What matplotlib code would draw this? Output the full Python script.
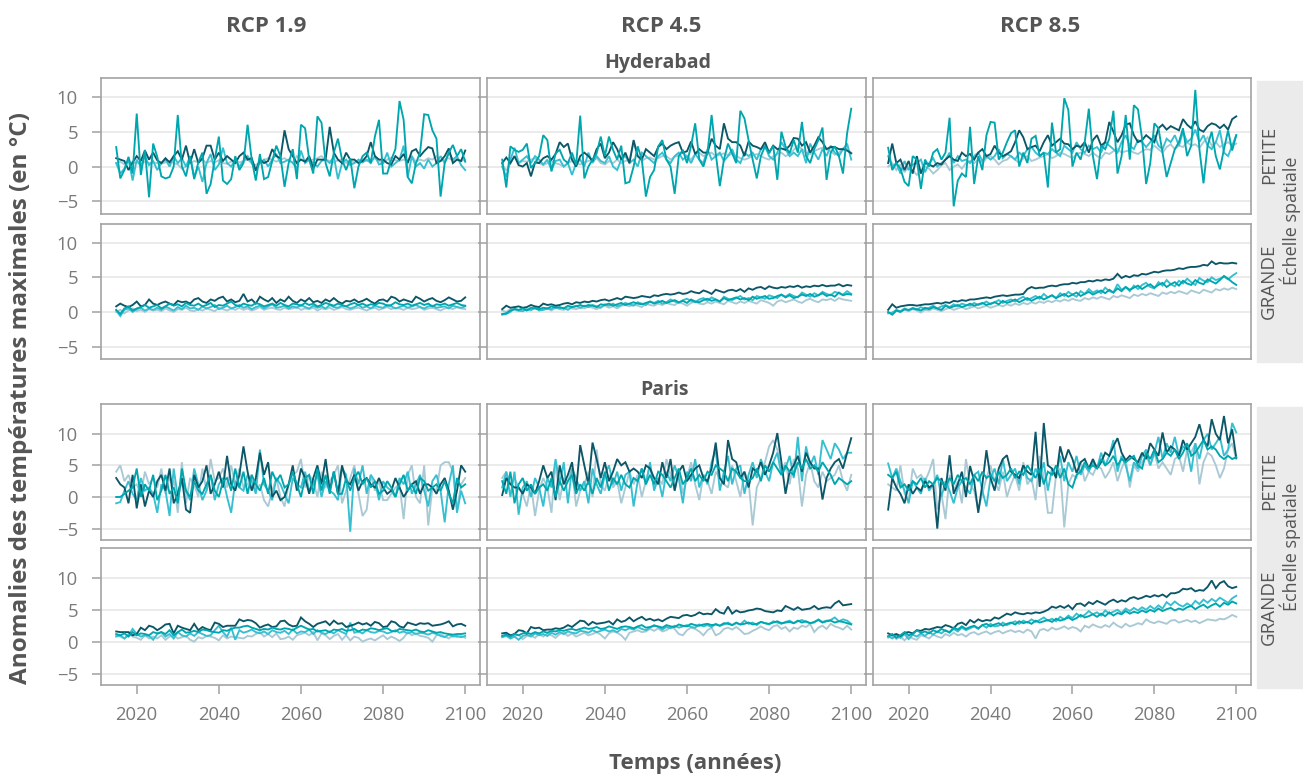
import matplotlib
matplotlib.use("Agg")
import matplotlib.pyplot as plt
from matplotlib.patches import Rectangle

plt.rcParams['font.family'] = ['Open Sans', 'DejaVu Sans']

# ---- data ----
years = list(range(2015, 2101))
rcp_labels = ["RCP 1.9", "RCP 4.5", "RCP 8.5"]
cities = ["Hyderabad", "Paris"]
scale_labels = ["PETITE", "GRANDE"]
x_ticks = [2020, 2040, 2060, 2080, 2100]
y_ticks = [-5, 0, 5, 10]

# Hyderabad - petite echelle
hyd_p19_dark = [
    1.2, 1.0, 0.8, -0.5, 0.6, 1.5, 0.8, 2.3, 1.0, 2.0,
    0.9, 0.5, 1.2, 0.6, 1.5, 2.2, 1.0, 3.0, 0.5, 2.5,
    0.5, 1.2, 3.0, 3.0, 1.0, 2.0, 0.8, 1.5, 1.0, 0.5,
    1.5, 2.0, 1.0, 1.2, -0.6, 1.0, 0.5, 0.8, 2.5, 1.5,
    1.2, 5.2, 2.5, 1.5, 0.5, 1.0, 0.7, 1.5, -0.3, 1.0,
    1.0, 1.0, 5.7, 2.0, 1.0, 0.5, 2.0, 1.0, 1.0, 0.5,
    0.8, 1.5, 3.5, 1.5, 1.0, 1.0, 0.5, 0.3, 1.5, 1.0,
    1.8, 0.5, 2.2, 2.5, 1.5, 2.2, 2.8, 2.6, 0.5, 0.8,
    1.5, 2.6, 0.5, 1.0, 0.8, 2.3,
]
hyd_p19_teal = [
    2.8, -1.7, -0.5, 1.4, -1.0, 7.6, -1.2, 2.4, -4.4, 3.3,
    1.4, -1.4, -1.7, -1.5, 0.0, 7.4, 0.0, -1.4, 1.5, -1.8,
    0.6, 2.0, -3.9, -2.5, 1.0, 4.3, -2.0, -2.5, -1.8, 1.5,
    -0.5, 0.5, 6.0, 1.0, -2.0, 1.8, -1.8, -1.5, 0.8, 3.0,
    1.5, -2.9, 0.5, 2.5, -1.8, 6.0, 5.5, 1.0, -1.0, 7.2,
    6.3, 0.5, -1.4, 2.0, 4.0, 1.0, -0.5, 1.2, -3.1, 0.0,
    1.5, 2.0, 0.5, 4.3, 6.7, -1.0, -1.0, 1.0, 2.5, 9.4,
    6.7, -1.5, -2.4, 0.5, 2.0, 7.5, 7.4, 5.2, 4.0, -4.3,
    0.5, 2.0, 3.1, 1.5, 2.5, 0.7,
]
hyd_p19_cyan = [
    0.5, -1.0, -0.3, 1.0, -2.0, 1.0, 0.0, 1.5, 0.2, 0.8,
    -0.5, 0.5, 1.0, 0.0, 1.5, 0.5, 1.2, 0.0, 1.5, -1.5,
    0.0, -2.2, 0.5, 1.8, -0.5, 0.3, 2.7, 0.5, 0.0, 1.0,
    0.0, 0.8, 1.5, 0.5, -0.5, 0.5, 1.0, 0.0, 1.0, 1.8,
    0.5, 0.7, 1.0, 0.5, -0.3, 2.3, 0.5, 1.0, 0.5, 0.0,
    0.8, 1.0, 0.5, 1.5, -1.8, 0.5, 1.0, 0.2, 0.5, 1.0,
    0.6, 1.0, 0.5, 1.5, 0.3, 0.5, 2.0, 0.0, 0.5, 1.0,
    3.0, -1.5, 1.5, 0.0, 0.5, -0.3, 1.0, 0.0, 0.5, 1.5,
    0.5, 2.0, 1.0, 1.5, 0.2, -0.5,
]
hyd_p19_light = [
    0.5, 0.7, 0.3, 0.8, 0.5, 0.6, 0.4, 0.7, 0.5, 0.6,
    0.5, 0.4, 0.6, 0.8, 0.5, 0.3, -0.3, 0.0, 0.5, 0.8,
    0.6, 1.0, 0.5, 0.8, 0.6, 0.9, 0.5, 0.4, 0.7, 0.9,
    0.6, 0.8, 1.0, 0.5, 0.2, 0.6, 0.9, 1.2, 1.0, 0.7,
    1.0, 1.2, 0.8, 0.6, 1.5, 1.0, 0.8, 0.9, 1.0, 1.2,
    1.5, 1.0, 0.8, 0.6, 0.9, 1.0, 0.5, 0.8, 0.6, 0.7,
    1.0, 0.8, 1.0, 1.2, 0.8, 0.5, 1.0, 1.3, 0.9, 0.8,
    1.0, 0.9, 1.5, 0.7, 1.0, 0.8, 1.2, 1.0, 1.5, 0.8,
    1.0, 1.2, 0.9, 1.1, 0.8, 1.0,
]

hyd_p45_dark = [
    0.5, 1.3, 0.5, 1.5, 0.2, 0.0, 0.5, -1.4, 0.6, 0.5,
    1.2, 1.5, 1.0, 1.8, 3.5, 2.8, 3.3, 1.0, 0.0, 1.5,
    2.0, 1.5, 0.8, 2.5, 3.3, 1.2, 2.0, 3.5, 2.5, 1.0,
    2.0, 0.5, 3.8, 1.5, 1.0, 2.5, 2.0, 1.5, 2.8, 3.3,
    2.5, 3.0, 3.3, 3.5, 2.0, 2.2, 3.6, 1.8, 2.5, 2.0,
    2.0, 4.0, 3.0, 2.5, 6.2, 4.0, 3.5, 3.5, 3.0, 1.5,
    3.6, 3.0, 2.8, 2.5, 3.5, 2.0, 3.0, 2.5, 2.6, 2.4,
    3.0, 4.1, 4.0, 3.0, 3.5, 2.0, 3.0, 4.2, 3.5, 2.5,
    2.8, 2.8, 2.5, 2.5, 2.3, 1.9,
]
hyd_p45_teal = [
    1.0, -3.0, 2.9, 2.4, 2.1, 2.4, 3.3, -0.2, 0.5, 1.5,
    4.5, 3.8, -0.7, 1.9, 2.4, 1.0, 0.5, 2.0, 0.2, 7.3,
    -1.7, 0.0, 1.0, 1.9, 4.3, 1.5, 4.3, 2.4, 1.0, 3.0,
    -2.4, -2.2, 0.0, 2.9, 1.0, -4.3, -1.5, -0.5, 2.9, 3.8,
    1.0, 0.0, -3.9, 1.5, 2.4, 0.5, 3.0, 6.2, 1.0, 0.0,
    2.0, 7.4, 1.9, -2.8, 1.0, 3.3, 1.9, 0.5, 8.0, 6.9,
    3.8, 1.0, -1.7, 1.5, 2.9, 1.9, 3.0, -1.9, 5.0, 2.9,
    1.9, 3.8, 2.0, 6.4, 1.5, 0.5, 2.5, 3.8, 5.6, -1.9,
    2.0, 2.9, 1.5, -1.0, 4.8, 8.3,
]
hyd_p45_cyan = [
    0.0, -1.5, 1.0, 2.7, 0.5, 1.0, 1.5, 0.5, 1.5, 1.0,
    0.3, 1.0, -0.5, 0.8, 1.0, 0.0, 0.5, -1.2, 0.5, 1.0,
    0.0, 2.0, 0.5, 1.5, 0.8, 0.5, 1.5, 0.0, -0.5, 1.0,
    1.5, 0.5, 1.0, 0.0, 2.0, 1.5, 1.0, 0.5, 1.5, 2.0,
    1.0, 0.5, 1.5, 2.0, 1.0, 1.5, 0.5, 1.8, 1.0, 0.5,
    2.5, 1.0, 1.5, 2.0, 0.8, 1.5, 2.5, 1.0, 0.5, 2.0,
    1.5, 2.0, 1.0, 2.5, 3.0, 1.5, 1.0, 2.0, 3.5, 2.5,
    1.5, 2.0, 1.5, 2.5, 0.5, 3.3, 2.0, 1.0, 2.5, 1.5,
    3.0, 2.0, 1.5, 2.5, 3.3, 1.0,
]
hyd_p45_light = [
    0.3, -0.6, 0.5, 1.5, 0.5, 0.8, 0.7, 1.0, 1.2, 0.5,
    0.2, 0.5, 0.8, 0.5, 0.3, 0.0, 0.5, 0.8, 0.5, 0.3,
    0.6, 0.8, 1.0, 1.2, 0.5, 0.3, 0.8, 0.5, 1.0, 0.5,
    0.8, 1.0, 3.4, 1.5, 0.8, 1.2, 1.3, 1.0, 1.2, 1.5,
    1.5, 1.0, 1.4, 1.6, 2.0, 1.5, 1.0, 1.8, 2.0, 1.5,
    1.8, 2.0, 1.5, 1.7, 1.9, 1.6, 1.8, 1.5, 1.2, 1.0,
    1.2, 1.6, 1.8, 1.5, 1.2, 1.0, 1.5, 1.8, 2.0, 1.5,
    1.8, 2.4, 3.0, 2.5, 2.0, 1.8, 2.2, 2.5, 2.7, 2.5,
    2.2, 1.7, 2.0, 2.6, 2.5, 2.0,
]

hyd_p85_dark = [
    0.5, 3.3, 0.5, 1.0, -0.5, 0.8, -1.0, 1.5, -1.0, 0.5,
    0.3, 0.0, 0.5, 0.3, 1.0, 1.5, 1.0, 0.8, 2.0, 1.5,
    1.8, 1.0, 2.0, 2.5, 1.5, 1.8, 3.0, 2.0, 1.5, 1.8,
    2.2, 3.5, 5.2, 4.2, 2.5, 2.8, 3.0, 2.2, 3.5, 4.5,
    3.0, 3.5, 4.0, 3.3, 3.2, 2.5, 3.0, 2.8, 3.5, 2.0,
    3.8, 4.5, 3.0, 3.5, 6.4, 5.0, 3.5, 4.5, 6.0, 6.2,
    4.5, 3.5, 3.8, 4.5, 4.0, 3.5, 5.5, 6.0, 5.3, 5.8,
    5.5, 5.2, 6.8, 6.0, 5.5, 6.5, 5.3, 5.0, 5.8, 6.2,
    6.0, 5.5, 6.0, 5.3, 6.8, 7.2,
]
hyd_p85_teal = [
    2.7, -0.5, 0.5, -0.3, -2.2, -2.8, 1.5, 1.0, -3.2, 1.0,
    0.0, 2.0, 2.5, 1.0, 2.0, 7.0, -5.7, -2.0, -1.0, -1.5,
    5.7, -2.5, 1.5, -0.5, 4.5, 6.4, 6.3, 1.0, 2.0, 3.5,
    4.8, 5.2, 0.0, 2.0, 0.5, 4.0, 4.4, 1.5, 2.0, -3.0,
    6.3, 2.0, 2.5, 9.8, 8.1, 0.0, 2.0, 1.0, 3.5, 8.3,
    1.5, -1.8, 3.0, 2.5, 4.0, 8.0, -1.0, 1.5, 7.4, 1.0,
    8.8, 8.2, 4.0, -2.5, 0.5, 6.2, 5.5, 2.0, -1.5, 0.5,
    2.5, 3.5, 5.5, 1.5, 3.0, 11.0, 2.5, -2.4, 3.0, 5.0,
    1.5, -0.4, 2.5, 5.2, 2.3, 4.5,
]
hyd_p85_cyan = [
    1.5, 0.0, 0.5, -1.0, 0.8, -0.5, 0.3, 0.5, 1.0, -0.8,
    0.5, 1.2, 0.0, 0.5, 1.0, 2.0, 0.5, 1.5, 0.8, 1.0,
    0.5, 1.5, 2.0, 0.8, 1.5, 1.0, 1.5, 2.5, 1.2, 1.8,
    1.5, 1.0, 2.0, 1.5, 2.5, 2.8, 2.0, 1.5, 2.0, 1.8,
    2.5, 2.0, 1.5, 3.0, 2.5, 2.0, 3.5, 2.5, 2.0, 3.0,
    2.5, 2.8, 2.0, 3.5, 3.0, 2.5, 2.0, 3.5, 4.5, 3.0,
    2.5, 3.8, 3.5, 2.8, 3.5, 4.5, 3.0, 2.5, 4.0, 3.5,
    4.5, 3.0, 5.0, 3.5, 4.0, 5.3, 3.5, 4.5, 3.0, 2.5,
    3.5, 5.2, 2.0, 1.5, 3.0, 4.5,
]
hyd_p85_light = [
    0.0, 0.5, -0.5, 0.3, -0.8, 0.0, -0.5, -1.2, -0.5, 0.0,
    -0.3, -1.0, -0.5, 0.2, 0.5, -0.5, 0.0, 0.3, -0.3, 0.5,
    0.8, 0.5, 1.0, 0.5, 1.2, 1.5, 1.0, 0.3, 0.8, 1.0,
    1.5, 1.0, 0.5, 1.2, 1.5, 0.8, 1.0, 1.3, 1.5, 1.8,
    1.2, 1.5, 2.0, 1.8, 1.5, 1.2, 1.8, 2.0, 1.8, 1.5,
    2.0, 1.5, 1.2, 2.0, 1.8, 2.2, 2.5, 2.0, 2.2, 2.3,
    2.0, 1.8, 2.2, 2.5, 2.4, 3.0, 2.5, 2.0, 2.8, 3.2,
    2.5, 3.0, 2.8, 3.5, 3.0, 3.2, 2.7, 3.5, 4.2, 3.0,
    3.5, 2.8, 3.2, 3.5, 3.0, 3.3,
]

# Hyderabad - grande echelle
hyd_g19_dark = [
    0.8, 1.2, 0.9, 0.7, 1.0, 1.5, 0.8, 1.0, 1.8, 1.2,
    1.0, 1.3, 1.5, 1.2, 1.0, 1.6, 1.4, 1.5, 1.2, 1.8,
    2.0, 1.5, 1.3, 1.8, 1.6, 2.0, 2.2, 1.5, 1.8, 1.4,
    1.6, 2.6, 1.5, 1.8, 1.2, 2.2, 1.8, 1.5, 2.0, 1.3,
    1.8, 1.5, 2.2, 1.6, 1.3, 1.8, 1.5, 2.0, 1.4, 1.6,
    1.3, 1.8, 1.5, 2.0, 1.5, 1.2, 1.6, 1.5, 1.8, 1.4,
    1.6, 1.9, 1.5, 1.2, 1.7, 1.8, 1.5, 2.2, 2.0, 1.5,
    1.8, 1.6, 1.4, 2.2, 1.9, 1.5, 1.8, 2.0, 1.6, 1.4,
    1.7, 2.1, 1.8, 1.5, 1.6, 2.1,
]
hyd_g19_teal = [
    0.3, -0.3, 0.5, 0.8, 0.2, 0.5, 0.7, 1.0, 0.6, 0.8,
    1.0, 0.5, 0.8, 1.2, 0.9, 1.1, 0.8, 1.3, 1.0, 0.9,
    1.2, 0.8, 1.0, 1.3, 0.7, 1.0, 0.9, 1.2, 1.5, 1.0,
    0.8, 1.2, 1.0, 0.9, 1.3, 1.1, 0.8, 1.0, 1.2, 0.9,
    1.3, 1.0, 0.8, 1.2, 1.1, 0.9, 1.3, 1.0, 1.2, 0.8,
    1.0, 1.3, 1.1, 0.9, 1.2, 1.0, 0.8, 1.1, 1.3, 1.0,
    1.2, 0.9, 1.1, 1.0, 1.3, 1.2, 0.9, 1.0, 1.4, 1.1,
    1.0, 1.2, 0.9, 1.1, 1.3, 1.0, 1.2, 0.8, 1.1, 1.0,
    1.2, 0.9, 1.1, 1.3, 1.0, 0.9,
]
hyd_g19_cyan = [
    0.2, -0.6, 0.3, 0.5, 0.0, 0.4, 0.6, 0.2, 0.5, 0.3,
    0.6, 0.3, 0.8, 0.5, 0.2, 0.7, 0.4, 0.9, 0.5, 0.6,
    0.3, 0.8, 0.5, 0.7, 1.0, 0.4, 0.6, 0.9, 0.5, 0.7,
    1.0, 0.6, 0.8, 0.4, 0.7, 0.9, 0.5, 0.8, 1.1, 0.6,
    0.7, 0.9, 0.5, 0.8, 0.6, 1.0, 0.7, 0.5, 0.9, 0.6,
    0.8, 0.5, 1.0, 0.7, 0.6, 0.9, 0.8, 0.5, 0.7, 1.0,
    0.6, 0.8, 0.5, 0.9, 0.7, 0.6, 1.0, 0.8, 0.5, 0.7,
    0.9, 0.6, 0.8, 1.0, 0.7, 0.5, 0.8, 0.9, 0.6, 0.7,
    0.8, 0.5, 0.9, 0.7, 0.6, 0.8,
]
hyd_g19_light = [
    0.0, 0.3, -0.2, 0.2, 0.5, 0.1, 0.3, 0.0, 0.4, 0.2,
    0.3, 0.1, 0.5, 0.2, 0.0, 0.4, 0.3, 0.6, 0.2, 0.1,
    0.4, 0.2, 0.5, 0.3, 0.1, 0.6, 0.4, 0.2, 0.5, 0.3,
    0.6, 0.3, 0.5, 0.2, 0.4, 0.7, 0.3, 0.5, 0.6, 0.4,
    0.3, 0.6, 0.4, 0.5, 0.7, 0.3, 0.5, 0.4, 0.6, 0.2,
    0.5, 0.4, 0.6, 0.3, 0.5, 0.7, 0.4, 0.3, 0.5, 0.6,
    0.4, 0.2, 0.5, 0.6, 0.3, 0.5, 0.7, 0.4, 0.6, 0.5,
    0.3, 0.6, 0.4, 0.5, 0.7, 0.3, 0.5, 0.6, 0.4, 0.2,
    0.5, 0.6, 0.4, 0.7, 0.5, 0.4,
]

hyd_g45_dark = [
    0.4, 0.9, 0.6, 0.7, 0.8, 0.6, 0.7, 1.0, 0.8, 0.7,
    1.2, 1.0, 1.1, 0.9, 1.0, 1.2, 1.3, 1.1, 1.4, 1.3,
    1.5, 1.4, 1.6, 1.5, 1.7, 1.8, 1.6, 1.8, 2.0, 1.8,
    2.2, 2.1, 2.0, 2.1, 2.3, 2.2, 2.1, 2.4, 2.3, 2.5,
    2.6, 2.5, 2.6, 2.8, 2.6, 2.7, 3.0, 2.8, 2.7, 3.1,
    2.9, 2.6, 3.2, 3.0, 2.8, 3.1, 3.2, 3.0, 3.3, 2.9,
    3.4, 3.2, 3.5, 3.6, 3.3, 3.7, 3.5, 3.4, 3.6, 3.5,
    3.7, 3.6, 3.8, 3.5, 3.7, 3.6, 3.8, 3.7, 3.9, 3.7,
    3.8, 3.8, 4.0, 3.7, 3.9, 3.8,
]
hyd_g45_teal = [
    -0.3, -0.2, 0.2, 0.4, 0.3, 0.5, 0.2, 0.6, 0.5, 0.4,
    0.6, 0.5, 0.8, 0.6, 0.7, 0.5, 0.9, 0.7, 0.8, 1.0,
    0.8, 1.0, 0.9, 0.7, 1.1, 1.0, 1.2, 0.9, 1.1, 1.3,
    1.0, 1.2, 1.4, 1.2, 1.1, 1.3, 1.5, 1.2, 1.4, 1.6,
    1.3, 1.5, 1.7, 1.4, 1.6, 1.3, 1.8, 1.5, 1.4, 1.7,
    1.9, 1.6, 1.8, 1.5, 2.0, 1.7, 1.9, 2.1, 1.8, 2.0,
    1.7, 2.2, 1.9, 2.1, 2.3, 1.9, 2.0, 2.3, 2.5, 2.1,
    2.4, 2.0, 2.2, 2.5, 2.3, 2.6, 2.2, 2.4, 2.7, 2.3,
    2.5, 2.2, 2.8, 2.4, 2.6, 2.5,
]
hyd_g45_cyan = [
    -0.4, -0.3, 0.0, 0.5, 0.2, 0.1, 0.4, 0.3, 0.6, 0.2,
    0.3, 0.5, 0.4, 0.8, 0.5, 0.6, 0.3, 0.7, 0.9, 0.6,
    0.9, 0.7, 1.0, 0.8, 0.6, 1.1, 0.9, 1.2, 0.8, 1.0,
    1.3, 1.1, 0.9, 1.4, 1.2, 1.0, 1.5, 1.3, 1.6, 1.2,
    1.4, 1.8, 1.5, 1.3, 1.7, 1.9, 1.6, 1.4, 1.8, 2.0,
    1.6, 2.1, 1.8, 1.5, 2.2, 1.9, 1.7, 2.0, 2.3, 1.8,
    2.0, 1.7, 2.3, 2.1, 1.9, 2.4, 2.2, 2.0, 2.5, 2.2,
    2.6, 2.3, 2.1, 2.8, 2.5, 2.2, 2.7, 2.4, 2.9, 2.6,
    2.4, 2.9, 2.7, 2.5, 3.0, 2.6,
]
hyd_g45_light = [
    0.2, 0.0, 0.4, 0.3, 0.1, 0.5, 0.3, 0.2, 0.6, 0.4,
    0.3, 0.5, 0.2, 0.6, 0.4, 0.3, 0.7, 0.5, 0.4, 0.6,
    0.5, 0.8, 0.6, 0.4, 0.7, 0.9, 0.6, 0.8, 0.5, 0.9,
    1.0, 0.8, 1.1, 0.9, 0.7, 1.2, 1.0, 0.9, 1.2, 1.0,
    1.3, 1.1, 1.0, 1.4, 1.2, 0.9, 1.3, 1.5, 1.2, 1.1,
    1.4, 1.2, 1.5, 1.3, 1.1, 1.6, 1.4, 1.2, 1.5, 1.3,
    1.6, 1.4, 1.2, 1.7, 1.5, 1.3, 0.9, 1.5, 1.7, 1.4,
    1.6, 1.8, 1.5, 1.3, 1.7, 1.9, 1.6, 1.4, 1.8, 1.7,
    1.9, 1.6, 2.0, 1.8, 1.7, 1.6,
]

hyd_g85_dark = [
    0.3, 1.1, 0.6, 0.8, 0.9, 1.0, 1.0, 0.9, 1.0, 1.1,
    1.1, 1.2, 1.3, 1.2, 1.4, 1.3, 1.6, 1.5, 1.7, 1.6,
    1.8, 1.8, 1.9, 2.0, 2.1, 2.0, 2.2, 2.3, 2.4, 2.3,
    2.4, 2.5, 2.5, 2.6, 3.3, 3.6, 3.4, 3.5, 3.5, 3.7,
    3.8, 3.7, 3.9, 4.0, 4.0, 4.2, 4.1, 4.3, 4.3, 4.5,
    4.4, 4.6, 4.5, 4.7, 4.6, 4.8, 5.5, 4.9, 5.2, 5.0,
    5.3, 5.2, 5.5, 5.4, 5.6, 5.8, 5.7, 5.9, 6.0, 6.0,
    6.1, 6.3, 6.2, 6.4, 6.5, 6.5, 6.6, 6.8, 6.7, 7.3,
    6.9, 7.1, 7.0, 7.0, 7.1, 7.0,
]
hyd_g85_teal = [
    0.0, -0.4, 0.2, 0.0, 0.4, 0.3, 0.5, 0.4, 0.2, 0.6,
    0.4, 0.7, 0.5, 0.3, 0.9, 0.6, 0.8, 1.0, 0.7, 0.9,
    1.2, 0.9, 1.1, 1.3, 1.0, 1.2, 1.4, 1.1, 1.6, 1.3,
    1.5, 1.8, 1.4, 1.7, 2.0, 1.6, 1.9, 2.2, 1.8, 2.1,
    2.4, 2.0, 2.3, 2.6, 2.2, 2.5, 2.8, 2.3, 2.6, 2.9,
    2.5, 2.8, 3.1, 2.7, 3.2, 2.8, 3.4, 3.0, 3.6, 3.2,
    3.5, 3.8, 3.3, 3.7, 4.0, 3.5, 3.9, 4.2, 3.6, 4.0,
    4.3, 3.8, 4.5, 4.1, 3.9, 4.6, 4.2, 4.0, 4.7, 4.4,
    4.1, 4.6, 5.2, 4.8, 4.3, 3.9,
]
hyd_g85_cyan = [
    -0.2, -0.1, 0.3, 0.1, 0.5, 0.2, 0.6, 0.3, 0.7, 0.4,
    0.6, 0.9, 0.5, 0.8, 1.0, 0.7, 1.1, 0.8, 1.2, 1.0,
    0.9, 1.3, 1.0, 1.2, 1.5, 1.1, 1.4, 1.7, 1.3, 1.6,
    1.8, 1.5, 1.9, 2.2, 1.7, 2.0, 2.3, 1.9, 2.6, 2.1,
    2.4, 2.0, 2.7, 2.3, 2.9, 2.5, 2.2, 3.0, 2.6, 3.3,
    2.8, 3.1, 2.7, 3.5, 3.0, 2.8, 4.0, 3.2, 3.6, 3.0,
    3.8, 3.3, 3.9, 4.2, 3.6, 3.4, 4.3, 3.8, 4.6, 4.0,
    3.7, 4.5, 4.1, 4.8, 4.3, 3.9, 4.9, 4.5, 4.3, 5.0,
    4.6, 4.8, 5.1, 4.7, 5.2, 5.6,
]
hyd_g85_light = [
    -0.1, -0.3, 0.2, 0.0, 0.3, 0.1, 0.4, 0.2, -0.1, 0.3,
    0.2, 0.5, 0.3, 0.1, 0.4, 0.6, 0.3, 0.5, 0.7, 0.4,
    0.6, 0.8, 0.5, 0.7, 0.9, 0.6, 0.8, 1.0, 0.8, 1.1,
    0.9, 1.2, 1.0, 1.3, 1.1, 1.4, 1.2, 1.5, 1.3, 1.6,
    1.4, 1.7, 1.5, 1.8, 1.6, 1.9, 1.7, 1.6, 2.0, 1.8,
    2.1, 1.9, 2.2, 2.0, 1.8, 2.3, 2.1, 2.4, 2.2, 2.0,
    2.5, 2.3, 2.6, 2.4, 2.7, 2.5, 2.3, 2.8, 2.6, 2.9,
    2.7, 3.0, 2.8, 2.6, 3.1, 2.9, 2.7, 3.2, 3.0, 2.8,
    3.3, 3.1, 3.4, 3.2, 3.5, 3.3,
]

# Paris - petite echelle
par_p19_dark = [
    3.0, 2.0, 1.5, -1.0, 3.5, -1.8, 2.0, -1.5, 1.0, 0.0,
    2.5, 3.5, 1.0, 4.5, -1.0, 0.5, 3.0, -2.0, -2.5, 3.5,
    1.5, 2.5, 5.0, 0.5, 2.0, 4.0, 1.5, 6.5, 2.0, 1.0,
    3.5, 8.0, 4.0, 1.0, 3.0, 7.0, 3.5, 5.5, 0.0, 1.0,
    -0.5, 0.0, 2.0, 5.0, 1.0, 4.5, 3.0, 0.5, 3.0, 5.0,
    2.0, 6.0, 1.0, 4.0, 0.5, 5.0, 2.5, 2.0, 3.5, 1.0,
    2.5, 3.0, 2.0, 1.5, 3.0, 1.5, 0.5, 1.0, 3.0, 1.5,
    0.0, 1.0, 2.0, 2.5, 0.5, 2.0, 2.0, 1.5, 0.5, 2.0,
    3.0, 1.0, -2.0, 1.0, 5.0, 4.0,
]
par_p19_teal = [
    0.0, 0.0, 0.5, 1.0, 1.5, 4.5, 0.0, 2.0, 1.0, 3.5,
    -0.5, 1.0, 3.5, 0.5, 1.5, -1.0, 4.5, 1.0, 0.0, 2.5,
    1.0, 0.5, 2.0, 3.5, 1.0, 0.0, 2.5, 3.0, 1.0, 4.5,
    1.5, 4.0, 0.5, 3.5, 2.0, 1.0, 3.0, 0.5, 4.0, 2.5,
    3.5, 1.5, 2.0, 4.0, 2.0, 0.0, 3.0, 3.5, 0.5, 4.5,
    1.0, 3.5, 0.5, 4.0, 0.5, 0.5, 3.0, 1.0, 3.0, 4.0,
    2.0, 3.0, 1.5, 2.5, 0.5, 1.0, 2.5, 1.5, 0.0, 2.0,
    3.5, 1.0, 2.0, 0.5, 3.0, 2.5, 1.0, 1.5, 2.0, 1.0,
    2.5, 0.5, -1.0, 3.0, 1.5, 2.0,
]
par_p19_cyan = [
    -1.0, -0.8, 1.0, 2.5, 0.5, -0.5, 3.0, 1.0, 1.5, 0.5,
    -2.5, 2.0, 1.0, -3.0, 4.5, 0.0, 2.5, 1.0, -0.5, 4.5,
    2.0, -0.5, 1.0, 3.5, -0.5, 2.0, 3.0, 0.0, -2.5, 2.5,
    1.5, 1.0, 3.5, 2.5, 0.5, 7.5, 2.0, 1.0, -0.5, 3.0,
    2.0, 0.5, -1.0, 3.0, 2.0, 1.5, 4.0, 1.0, 2.0, 3.5,
    0.0, 2.5, 1.0, 0.5, -0.5, 4.5, 3.5, -5.5, 4.5, 2.0,
    5.0, 0.5, 3.5, 2.5, -0.5, 2.5, 1.5, 1.0, 0.0, 3.0,
    2.0, 4.0, 0.5, 2.0, 3.5, 1.0, -1.5, 2.5, 3.5, 1.0,
    -4.0, 2.0, 5.0, -2.5, 1.0, -1.0,
]
par_p19_light = [
    4.0, 5.0, 2.5, 3.5, 1.5, 2.0, 0.5, 4.0, 2.0, 3.0,
    1.5, 4.5, 0.5, 3.0, 2.5, -2.5, 5.5, -1.0, 3.0, 2.0,
    0.0, 4.5, 1.0, 6.0, 2.5, 3.0, 4.5, 1.5, 5.0, 2.0,
    4.5, 1.5, 2.0, 3.5, 1.0, 2.0, -0.5, -1.5, 1.0, 3.0,
    0.0, -1.5, 2.0, 3.5, 4.0, 6.0, 1.5, 3.5, 2.5, 0.0,
    4.0, 1.5, 2.5, 3.5, 5.0, -1.0, 1.0, 3.0, 5.0, 0.5,
    -3.0, -2.0, 3.5, 1.0, 2.5, -0.5, -0.5, 0.5, 1.5, 2.0,
    -3.5, 3.5, 5.0, 0.0, -1.0, 5.0, -4.5, 1.5, 1.0, 5.0,
    5.5, 5.5, 4.0, -2.0, 2.0, 3.0,
]

par_p45_dark = [
    0.3, 3.0, 2.0, 1.5, 1.5, 0.5, 2.0, 1.5, 0.5, 2.5,
    5.0, 3.0, 4.0, -0.5, 5.0, 2.0, 3.5, 5.5, 1.0, 8.2,
    5.0, 2.0, 8.6, 6.0, 3.0, 5.5, 2.5, 4.0, 6.0, 5.0,
    5.5, 4.0, 4.5, 4.0, 3.0, 5.0, 4.5, 3.0, 2.0, 5.5,
    3.0, 6.0, 1.0, 4.0, 5.0, 2.5, 3.5, 4.5, 5.0, 3.0,
    2.5, 4.5, 8.6, 3.0, 2.0, 9.0, 6.0, 5.5, 3.0, 4.0,
    1.5, 4.5, 4.0, 5.5, 3.5, 5.0, 7.0, 10.1, 5.5, 0.5,
    4.0, 5.0, 6.5, 4.0, 7.0, 5.5, 4.5, 4.5, -0.4, 3.0,
    4.5, 5.5, 6.0, 4.5, 7.0, 9.3,
]
par_p45_teal = [
    2.5, 0.5, 4.0, -1.0, 2.0, 3.0, 1.0, 2.0, 0.5, 1.5,
    2.0, 1.0, 3.0, 0.0, 2.5, 1.0, 2.5, 3.5, 0.5, 2.0,
    1.0, 2.5, 0.5, 3.0, 1.5, 4.0, 1.0, 3.0, 2.0, 3.5,
    2.0, 1.5, 3.0, 2.5, 4.5, 2.0, 3.5, 2.0, 4.0, 3.5,
    2.5, 1.5, 3.0, 4.5, 2.0, 3.0, 4.5, 2.5, 3.5, 2.5,
    4.0, 3.5, 5.0, 4.5, 4.0, 2.5, 4.5, 4.0, 3.0, 2.5,
    2.5, 3.0, 4.5, 2.5, 5.0, 4.0, 5.5, 4.5, 3.5, 5.0,
    4.0, 3.5, 5.5, 4.5, 6.0, 4.5, 5.0, 4.0, 5.5, 4.5,
    3.5, 2.0, 3.0, 2.5, 2.0, 2.5,
]
par_p45_cyan = [
    1.5, 4.0, 0.0, 4.0, -2.8, 1.5, 2.5, 0.0, 3.0, 1.5,
    -1.5, 3.0, 1.5, 6.0, 2.0, 5.5, -1.0, 4.5, 3.0, 1.0,
    2.5, -1.0, 4.5, 2.0, 0.5, 3.5, 5.0, 2.0, 4.0, 1.0,
    3.5, 4.0, -1.5, 2.5, 4.5, 2.0, 5.5, 1.0, 3.0, 0.0,
    4.0, 2.5, 5.0, 3.0, -1.0, 4.0, 2.5, 6.0, 1.5, 3.5,
    2.0, 5.5, 7.5, 1.0, 4.0, 6.5, 2.0, 4.5, 5.0, 0.5,
    3.5, 5.5, 3.0, 6.0, 4.0, 2.5, 5.5, 7.0, 3.5, 4.5,
    6.5, 3.0, 9.5, 2.5, 8.0, 5.0, 6.5, 3.5, 9.0, 7.5,
    6.0, 8.5, 7.5, 6.0, 7.0, 7.0,
]
par_p45_light = [
    3.0, 4.0, 2.0, 3.0, 1.5, 0.5, -1.5, 2.0, -3.0, 1.0,
    3.0, 1.5, -2.5, 5.5, -0.5, 3.0, 2.5, 4.5, -1.5, 1.0,
    2.0, 4.0, 0.0, 7.5, 2.0, 1.0, 3.5, 1.5, 2.5, -1.0,
    1.5, 4.0, 2.0, 3.5, 0.0, 2.5, 5.0, 1.5, 3.0, 2.0,
    6.0, 3.5, 1.0, 4.5, 0.5, 3.0, 5.5, 2.0, -0.5, 3.5,
    2.5, 0.5, 4.0, 3.0, 2.0, 1.5, 5.0, 2.5, 0.0, 4.0,
    2.5, -4.5, 1.5, 3.0, 5.5, 8.0, 9.0, 7.5, 4.0, 5.5,
    2.0, 6.0, 4.5, -1.5, 3.5, 5.5, 2.5, 1.5, 4.0, 2.5,
    3.0, 3.5, 5.0, 2.5, 1.0, 3.5,
]

par_p85_dark = [
    -2.0, 3.0, 1.5, 0.5, -1.0, 2.0, 0.5, 1.5, 1.0, 2.5,
    1.5, 2.0, -5.0, 3.0, 1.0, 6.6, 0.5, 2.0, 4.0, 0.0,
    4.9, 2.5, -2.5, 2.0, 7.4, 3.0, 1.0, 4.5, 6.0, 6.6,
    4.0, 3.5, 3.0, 5.0, 4.0, 3.5, 10.3, 1.6, 11.7, 5.0,
    4.5, 3.0, 8.0, 5.5, 7.5, 6.0, 3.8, 5.5, 6.0, 4.5,
    6.0, 4.5, 5.5, 7.0, 6.5, 8.0, 9.3, 7.0, 5.8, 6.5,
    6.0, 5.5, 7.0, 6.0, 8.5, 7.5, 6.5, 10.2, 7.0, 8.0,
    7.5, 6.5, 9.0, 7.5, 8.5, 9.5, 11.5, 9.0, 8.0, 12.3,
    10.0, 9.0, 12.8, 8.5, 10.7, 6.2,
]
par_p85_teal = [
    3.5, 3.0, 4.0, 1.5, 2.0, 1.0, 2.5, 2.0, 3.0, 1.5,
    2.5, 2.0, 3.0, 2.5, 1.5, 3.0, 2.0, 3.5, 2.5, 3.0,
    2.0, 3.5, 2.5, 4.0, 3.0, 3.5, 2.5, 4.0, 3.0, 3.5,
    4.5, 3.0, 4.0, 3.5, 5.0, 4.0, 3.0, 4.5, 2.0, 4.0,
    3.5, 5.0, 3.0, 4.5, 2.0, 1.5, 3.5, 4.0, 5.5, 4.5,
    5.0, 4.5, 6.0, 5.0, 5.5, 6.5, 5.0, 6.0, 5.5, 6.0,
    6.5, 5.0, 4.5, 7.0, 6.0, 7.5, 5.5, 6.0, 7.0, 6.5,
    7.5, 6.0, 7.0, 8.5, 6.5, 7.0, 8.0, 9.0, 7.5, 8.0,
    7.5, 6.5, 6.0, 6.5, 6.0, 6.3,
]
par_p85_cyan = [
    5.3, 3.0, 4.5, 2.5, 1.0, -1.0, 2.5, 1.5, 0.5, 3.0,
    1.0, 2.0, 3.5, 0.0, 2.5, 1.0, -1.0, 1.5, 2.5, 1.5,
    0.5, 3.5, 4.0, 1.0, -1.5, 3.0, 4.5, 2.0, 6.0, 2.5,
    3.5, 4.5, 2.0, 5.0, 3.0, 2.5, 4.5, 3.0, 5.5, 1.0,
    4.5, 3.5, 6.5, 2.5, 5.5, 4.0, 6.5, 3.5, 5.0, 4.0,
    5.5, 4.5, 7.0, 5.0, 6.5, 9.0, 4.0, 6.5, 5.0, 2.5,
    5.5, 4.5, 6.5, 7.5, 5.0, 7.0, 9.5, 6.0, 8.5, 7.0,
    9.5, 6.5, 8.0, 7.5, 4.0, 8.5, 6.0, 9.0, 10.0, 7.5,
    8.5, 9.5, 6.5, 7.5, 11.7, 10.2,
]
par_p85_light = [
    2.0, 1.5, 1.0, 5.0, 0.5, -0.5, 4.5, 3.0, 3.5, 2.5,
    4.0, 6.0, -2.0, 0.5, -3.5, 3.5, 1.0, 2.5, -1.0, 6.0,
    2.0, 1.0, -2.0, 0.5, 3.0, 5.0, 2.5, 1.0, 4.0, 0.0,
    2.0, 3.5, 1.0, 5.5, 2.0, 3.0, -0.5, 6.5, 3.0, -2.5,
    -2.5, 3.5, 4.5, -4.8, 2.0, 3.5, 3.0, 5.5, 2.5, 4.0,
    3.5, 5.0, 4.5, 3.0, 4.0, 5.5, 2.5, 4.5, 6.0, 1.5,
    5.0, 4.0, 5.5, 6.5, 5.0, 7.0, 4.5, 5.5, 4.5, 3.5,
    6.0, 6.5, 4.0, 7.5, 7.0, 8.5, 2.0, 5.5, 7.0, 6.5,
    5.0, 3.0, 4.5, 7.5, 8.5, 6.0,
]

# Paris - grande echelle
par_g19_dark = [
    1.6, 1.5, 1.5, 1.5, 1.0, 1.2, 2.2, 1.8, 2.5, 2.3,
    1.8, 2.2, 2.7, 2.8, 1.3, 2.5, 2.2, 2.0, 1.8, 2.8,
    1.8, 2.3, 2.0, 1.8, 3.0, 2.8, 2.3, 2.5, 2.5, 2.5,
    3.5, 3.2, 3.4, 3.3, 2.9, 2.2, 2.5, 2.7, 2.3, 2.4,
    3.2, 3.3, 2.7, 2.4, 2.5, 3.8, 3.2, 2.8, 2.3, 2.8,
    3.0, 3.2, 2.6, 3.3, 2.8, 2.9, 2.3, 2.5, 2.7, 3.0,
    2.7, 2.9, 2.5, 3.1, 2.9, 2.3, 2.4, 3.2, 3.0, 2.4,
    2.2, 3.0, 2.8, 2.6, 2.9, 2.8, 2.9, 2.5, 2.6, 2.7,
    2.9, 3.2, 2.4, 2.7, 2.8, 2.5,
]
par_g19_teal = [
    1.2, 1.0, 1.3, 0.8, 1.5, 1.0, 1.3, 1.2, 1.0, 1.5,
    1.3, 1.5, 1.2, 1.8, 1.0, 1.5, 1.9, 1.4, 1.5, 1.7,
    1.5, 1.9, 1.8, 1.6, 1.5, 1.4, 1.8, 1.7, 2.0, 2.2,
    2.2, 2.4, 2.5, 2.2, 2.0, 1.8, 2.0, 1.9, 2.2, 2.0,
    1.9, 2.1, 2.0, 1.8, 2.2, 2.5, 2.2, 1.9, 2.0, 1.6,
    1.7, 1.8, 1.5, 1.9, 1.8, 2.0, 1.7, 1.8, 2.0, 1.6,
    1.9, 1.8, 2.1, 2.0, 1.8, 2.0, 2.1, 1.7, 1.6, 2.0,
    1.9, 1.8, 1.7, 1.9, 1.6, 1.5, 1.8, 1.6, 1.4, 1.5,
    1.3, 1.2, 1.1, 1.2, 1.2, 1.3,
]
par_g19_cyan = [
    0.8, 1.0, 0.5, 1.0, 2.0, 1.2, 0.8, 1.0, 0.9, 0.3,
    1.2, 1.5, 0.8, 1.2, 0.5, 1.5, 1.0, 0.8, 1.3, 0.9,
    1.5, 1.2, 0.9, 1.0, 1.8, 2.5, 1.5, 0.8, 2.2, 0.3,
    1.8, 1.4, 1.6, 1.9, 1.5, 1.3, 1.6, 1.2, 1.8, 1.5,
    1.4, 1.7, 1.2, 1.9, 1.3, 1.6, 1.5, 1.9, 1.2, 1.8,
    1.4, 1.2, 1.6, 1.3, 1.8, 1.5, 1.2, 3.0, 1.4, 1.6,
    1.3, 1.8, 1.5, 1.4, 1.7, 1.6, 1.3, 1.5, 1.8, 1.4,
    1.6, 1.3, 1.5, 1.2, 1.4, 1.3, 1.1, 1.4, 1.2, 0.9,
    0.7, 1.1, 0.8, 0.9, 0.7, 0.9,
]
par_g19_light = [
    1.0, 0.8, 0.5, 1.2, 0.8, 0.6, 0.3, 1.0, 0.5, 0.8,
    0.5, 1.0, 0.3, 0.8, 1.0, 0.5, 0.7, 0.9, 0.3, 0.0,
    0.7, 0.5, 0.9, 0.8, 0.6, 0.2, 1.0, 0.5, 0.8, 0.7,
    0.6, 0.5, 0.9, 0.8, 1.2, 1.5, 0.8, 1.2, 0.7, 1.3,
    0.4, 0.5, 0.8, 0.3, 1.0, 1.2, 1.4, 1.0, 1.5, 0.2,
    1.3, 1.0, 0.4, 0.9, 1.2, 0.3, 1.0, 0.2, 0.8, 0.6,
    0.0, 0.3, 0.5, 0.2, 0.6, 1.0, 0.4, 0.8, 0.5, 0.1,
    0.6, 1.5, 1.0, 1.3, 0.9, 0.8, 0.6, 0.0, 1.0, 1.2,
    0.8, 0.5, 1.0, 0.7, 0.9, 0.6,
]

par_g45_dark = [
    1.3, 1.4, 1.0, 1.2, 1.8, 1.7, 1.3, 2.3, 2.1, 2.2,
    1.8, 1.9, 1.9, 2.1, 2.0, 2.2, 2.6, 2.3, 2.8, 3.3,
    3.2, 2.6, 3.1, 2.8, 2.9, 3.0, 3.2, 2.7, 3.5, 3.1,
    3.3, 3.8, 3.2, 3.6, 3.9, 3.4, 3.6, 3.3, 3.5, 3.2,
    3.6, 3.9, 3.8, 3.7, 4.1, 4.2, 4.0, 4.2, 4.6, 4.3,
    4.4, 4.3, 5.1, 4.6, 4.4, 5.5, 4.4, 4.9, 4.6, 4.7,
    4.9, 5.0, 5.2, 5.1, 4.8, 4.7, 4.6, 4.9, 4.8, 5.6,
    5.3, 5.0, 5.4, 5.0, 5.1, 5.2, 5.6, 5.1, 5.3, 5.4,
    5.3, 6.0, 6.4, 5.7, 5.8, 5.9,
]
par_g45_teal = [
    0.9, 1.1, 0.8, 1.2, 1.0, 1.3, 1.4, 1.2, 1.5, 1.3,
    1.6, 1.4, 1.7, 1.6, 1.8, 1.7, 1.9, 2.0, 1.8, 2.0,
    2.2, 2.0, 2.1, 2.3, 2.0, 2.1, 2.4, 2.2, 2.0, 2.3,
    2.4, 2.3, 2.1, 2.4, 2.6, 2.2, 2.3, 2.5, 2.4, 2.2,
    2.6, 2.4, 2.3, 2.7, 2.5, 2.4, 2.8, 2.6, 2.5, 2.7,
    2.8, 2.6, 2.7, 2.5, 2.9, 2.8, 2.6, 3.0, 2.7, 2.8,
    3.0, 2.7, 2.8, 3.1, 2.9, 2.8, 3.0, 3.2, 2.9, 3.0,
    3.1, 2.9, 3.3, 3.0, 3.2, 2.9, 3.1, 3.4, 3.0, 3.2,
    3.3, 3.0, 3.2, 3.1, 2.9, 2.7,
]
par_g45_cyan = [
    0.7, 0.9, 0.5, 0.8, 0.3, 0.9, 1.1, 0.8, 1.3, 1.0,
    1.2, 0.9, 1.4, 1.1, 1.5, 1.2, 1.6, 1.4, 1.3, 1.7,
    1.6, 1.4, 1.8, 1.5, 1.7, 1.9, 1.6, 1.8, 1.5, 2.0,
    1.8, 2.1, 1.9, 2.3, 2.0, 1.8, 2.2, 2.6, 2.3, 1.9,
    2.3, 2.1, 2.5, 2.2, 2.4, 2.6, 2.3, 2.2, 2.7, 2.4,
    2.6, 2.3, 2.8, 2.5, 2.7, 3.0, 2.6, 2.9, 2.7, 3.3,
    2.8, 3.0, 2.6, 3.1, 2.9, 2.7, 3.2, 3.0, 2.8, 3.1,
    3.3, 2.9, 3.2, 3.4, 3.1, 2.9, 3.0, 3.5, 3.1, 3.3,
    3.4, 3.8, 3.2, 3.5, 3.3, 2.8,
]
par_g45_light = [
    0.8, 1.2, 0.5, 0.9, 1.1, 0.4, 0.9, 1.0, 0.6, 1.2,
    0.8, 1.3, 1.0, 0.6, 1.2, 1.4, 0.9, 1.3, 0.8, 1.1,
    1.4, 1.0, 1.2, 1.5, 1.1, 0.5, 1.3, 1.6, 1.4, 1.0,
    0.3, 1.4, 1.6, 1.8, 1.5, 1.6, 2.0, 1.7, 2.1, 1.6,
    1.8, 2.3, 2.0, 1.2, 1.0, 1.8, 2.2, 2.0, 1.6, 1.0,
    1.8, 2.2, 1.0, 1.3, 2.0, 2.2, 1.9, 2.3, 1.8, 1.2,
    1.3, 1.7, 2.0, 2.4, 2.0, 1.8, 2.4, 2.6, 2.0, 2.3,
    1.6, 2.2, 2.0, 2.5, 2.3, 2.8, 1.5, 2.2, 2.5, 2.0,
    2.8, 2.4, 2.2, 1.9, 2.5, 1.9,
]

par_g85_dark = [
    1.3, 1.0, 1.2, 0.9, 1.4, 1.5, 1.3, 1.8, 1.7, 2.0,
    1.9, 2.1, 2.3, 2.2, 2.6, 2.4, 2.1, 2.8, 3.0, 2.6,
    3.4, 3.0, 3.5, 3.2, 3.4, 3.3, 3.8, 3.6, 4.0, 4.4,
    4.2, 4.6, 4.4, 4.3, 4.5, 4.4, 4.6, 4.5, 4.7, 5.0,
    5.5, 5.3, 5.6, 5.3, 5.7, 5.1, 5.9, 6.0, 5.6, 6.2,
    5.9, 6.4, 6.1, 5.8, 6.3, 6.6, 6.2, 6.5, 6.3, 6.8,
    7.0, 6.7, 6.9, 7.2, 7.0, 7.3, 7.1, 7.4, 7.0, 7.6,
    7.6, 7.8, 8.3, 8.2, 8.4, 7.9, 8.1, 8.0, 8.6, 9.6,
    8.4, 9.2, 9.5, 8.7, 8.4, 8.6,
]
par_g85_teal = [
    0.8, 1.2, 0.6, 1.0, 1.5, 1.0, 1.2, 1.8, 1.4, 1.6,
    1.3, 1.8, 1.5, 2.0, 1.7, 1.5, 2.2, 1.9, 2.4, 2.0,
    2.3, 2.5, 2.1, 2.6, 2.8, 2.4, 2.7, 2.9, 2.5, 2.8,
    3.0, 2.7, 3.2, 2.9, 3.1, 2.8, 3.3, 3.0, 3.2, 3.4,
    3.1, 3.6, 3.3, 3.5, 3.8, 3.4, 3.7, 4.2, 3.8, 4.0,
    4.3, 3.9, 4.4, 4.0, 4.6, 4.1, 4.5, 4.3, 4.8, 4.4,
    4.7, 4.5, 4.9, 4.6, 5.0, 4.7, 5.2, 4.8, 5.1, 5.3,
    4.9, 5.2, 5.0, 5.4, 5.6, 5.1, 5.5, 5.8, 5.3, 5.7,
    6.0, 5.5, 6.1, 5.8, 6.3, 6.0,
]
par_g85_cyan = [
    0.9, 0.5, 1.0, 0.6, 1.2, 0.4, 1.1, 0.8, 1.3, 0.9,
    1.5, 1.1, 1.6, 1.3, 1.8, 1.4, 2.0, 1.6, 2.2, 1.8,
    2.1, 2.4, 2.0, 2.6, 2.2, 2.8, 2.4, 2.5, 3.0, 2.6,
    2.9, 3.2, 2.8, 3.3, 3.0, 3.5, 3.1, 3.4, 3.8, 3.3,
    3.6, 3.2, 3.9, 3.5, 4.1, 3.7, 4.4, 3.9, 4.2, 4.8,
    4.3, 4.6, 4.1, 4.9, 4.4, 4.7, 5.0, 4.5, 5.2, 4.8,
    5.3, 4.9, 5.4, 5.0, 5.6, 5.1, 5.7, 5.2, 6.2, 5.7,
    6.3, 5.8, 5.5, 6.0, 5.6, 6.4, 5.9, 6.6, 6.1, 6.7,
    6.3, 6.9, 6.5, 6.1, 6.8, 7.2,
]
par_g85_light = [
    0.6, 1.0, 0.4, 0.8, 0.2, 0.9, 0.5, 0.3, 1.0, 0.8,
    0.5, 1.1, 0.8, 0.6, 1.2, 0.9, 1.4, 1.0, 1.2, 0.8,
    1.3, 1.5, 1.1, 1.4, 1.6, 1.2, 1.5, 1.7, 1.3, 1.6,
    1.8, 1.5, 1.7, 1.4, 1.9, 1.6, 0.5, 1.8, 2.0, 1.7,
    2.2, 1.9, 2.1, 2.4, 2.0, 2.3, 2.1, 1.6, 2.5, 2.2,
    2.7, 2.4, 2.2, 2.6, 2.3, 3.0, 2.5, 2.2, 2.8, 2.4,
    2.6, 2.9, 2.7, 3.5, 3.1, 2.9, 3.2, 3.0, 2.8, 3.3,
    3.4, 3.0, 3.2, 3.4, 3.1, 3.3, 2.9, 3.2, 3.5, 3.4,
    3.3, 3.6, 3.5, 3.8, 4.2, 3.9,
]

# panels[row][col] -> (dark, teal, cyan, light)
panels = [
    [(hyd_p19_dark, hyd_p19_teal, hyd_p19_cyan, hyd_p19_light),
     (hyd_p45_dark, hyd_p45_teal, hyd_p45_cyan, hyd_p45_light),
     (hyd_p85_dark, hyd_p85_teal, hyd_p85_cyan, hyd_p85_light)],
    [(hyd_g19_dark, hyd_g19_teal, hyd_g19_cyan, hyd_g19_light),
     (hyd_g45_dark, hyd_g45_teal, hyd_g45_cyan, hyd_g45_light),
     (hyd_g85_dark, hyd_g85_teal, hyd_g85_cyan, hyd_g85_light)],
    [(par_p19_dark, par_p19_teal, par_p19_cyan, par_p19_light),
     (par_p45_dark, par_p45_teal, par_p45_cyan, par_p45_light),
     (par_p85_dark, par_p85_teal, par_p85_cyan, par_p85_light)],
    [(par_g19_dark, par_g19_teal, par_g19_cyan, par_g19_light),
     (par_g45_dark, par_g45_teal, par_g45_cyan, par_g45_light),
     (par_g85_dark, par_g85_teal, par_g85_cyan, par_g85_light)],
]

line_colors = ["#0b5768", "#00a6ae", "#35bfd0", "#a9c9d5"]
draw_order = [3, 2, 0, 1]

# ---- layout (pixel boxes) ----
W, H = 1303, 776
fig = plt.figure(figsize=(W / 100, H / 100), dpi=100)

col_px = [(101, 480), (487, 866), (873, 1251)]
row_px = [(78, 214), (224, 359), (404, 540), (548, 685)]
row_ylim = [(-6.8, 12.7), (-6.8, 12.7), (-6.8, 14.7), (-6.8, 14.7)]


def add_ax(x0, x1, y0, y1):
    return fig.add_axes([x0 / W, 1 - y1 / H, (x1 - x0) / W, (y1 - y0) / H])


def fig_text(x, y, s, **kw):
    fig.text(x / W, 1 - y / H, s, **kw)


for r, (y0, y1) in enumerate(row_px):
    for c, (x0, x1) in enumerate(col_px):
        ax = add_ax(x0, x1, y0, y1)
        series = panels[r][c]
        for k in draw_order:
            ax.plot(years, series[k], color=line_colors[k], lw=1.35,
                    solid_joinstyle="miter")
        ax.set_xlim(2011.3, 2103.6)
        ax.set_ylim(*row_ylim[r])
        ax.set_xticks(x_ticks)
        ax.set_yticks(y_ticks)
        ax.set_yticklabels(["\u22125", "0", "5", "10"])
        ax.grid(axis="y", color="#e6e6e6", lw=1.1)
        ax.set_axisbelow(True)
        for sp in ax.spines.values():
            sp.set_color("#a3a3a3")
            sp.set_linewidth(1.2)
        ax.tick_params(axis="both", colors="#a0a0a0", labelcolor="#7a7a7a",
                       labelsize=13.3, length=6.5, width=1.1)
        ax.tick_params(axis="y", pad=10, labelleft=(c == 0))
        ax.tick_params(axis="x", pad=8.5, bottom=(r == 3), labelbottom=(r == 3))

# column titles and city titles
title_x = [266, 661, 1040]
for x, lab in zip(title_x, rcp_labels):
    fig_text(x, 27, lab, ha="center", va="center", fontsize=16,
             fontweight="bold", color="#555555")
fig_text(658, 63, cities[0], ha="center", va="center", fontsize=14,
         fontweight="bold", color="#555555")
fig_text(664, 390, cities[1], ha="center", va="center", fontsize=14,
         fontweight="bold", color="#555555")

# right strips
for off in (0, 326):
    fig.patches.append(Rectangle((1257 / W, 1 - (362 + off) / H), 60 / W, 281 / H,
                                 transform=fig.transFigure, color="#ebebeb",
                                 zorder=0))
    fig_text(1269, 155 + off, scale_labels[0], ha="center", va="center",
             rotation=90, fontsize=13.5, color="#555555")
    fig_text(1269, 281 + off, scale_labels[1], ha="center", va="center",
             rotation=90, fontsize=13.5, color="#555555")
    fig_text(1290, 221 + off, "\u00c9chelle spatiale", ha="center", va="center",
             rotation=90, fontsize=13, color="#555555")

# axis titles
fig_text(21, 398, "Anomalies des températures maximales (en °C)", ha="center",
         va="center", rotation=90, fontsize=17.5, fontweight="bold", color="#555555")
fig_text(695, 764, "Temps (années)", ha="center", va="center", fontsize=16,
         fontweight="bold", color="#555555")

fig.savefig("out.png", dpi=100)
